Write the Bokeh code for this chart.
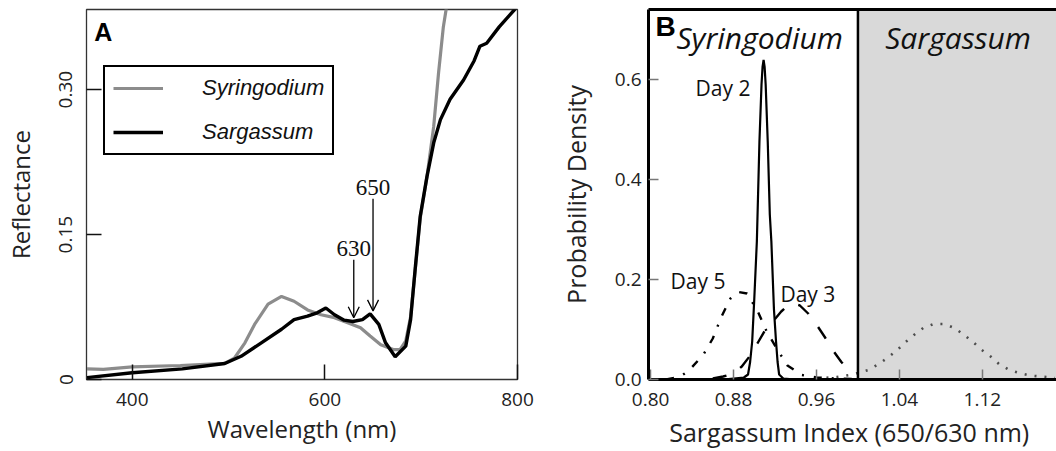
from bokeh.plotting import figure
from bokeh.models import (ColumnDataSource, Legend, LegendItem, Label, Arrow, OpenHead,
                          FixedTicker, BoxAnnotation, Span, LinearAxis, NumeralTickFormatter)
from bokeh.layouts import row
from bokeh.core.properties import value
from bokeh.embed import file_html
from bokeh.resources import INLINE

# ---------------- Panel A data: reflectance spectra ----------------
wl_syringodium = [353, 370, 400, 450, 496, 506, 517, 527, 541, 555, 568, 582, 596, 610,
                  623, 637, 647, 658, 671, 678, 684, 689, 694, 699, 706, 713, 718, 723, 727]
refl_syringodium = [0.011, 0.0105, 0.013, 0.0145, 0.0166, 0.022, 0.038, 0.057, 0.078, 0.086,
                    0.081, 0.072, 0.067, 0.064, 0.059, 0.0535, 0.045, 0.036, 0.031, 0.031,
                    0.040, 0.065, 0.115, 0.167, 0.210, 0.262, 0.317, 0.365, 0.390]

wl_sargassum = [353, 400, 452, 496, 513, 534, 555, 568, 582, 592, 601, 610, 620, 629, 639,
                647, 656, 663, 673, 684, 689, 694, 699, 706, 713, 720, 730, 744, 755, 761,
                768, 781, 797, 802]
refl_sargassum = [0.002, 0.007, 0.011, 0.0166, 0.024, 0.038, 0.052, 0.062, 0.0655, 0.069,
                  0.074, 0.067, 0.0614, 0.060, 0.062, 0.068, 0.057, 0.038, 0.0235, 0.0345,
                  0.062, 0.117, 0.169, 0.210, 0.245, 0.269, 0.290, 0.310, 0.330, 0.345,
                  0.348, 0.365, 0.383, 0.390]

band_wl = [630, 650]
band_labels = ["630", "650"]
arrow_top = [0.124, 0.187]
arrow_tip = [0.064, 0.071]

xticks_A = [400, 600, 800]
yticks_A = [0, 0.15, 0.30]
ytick_labels_A = ["0", "0.15", "0.30"]

# ---------------- Panel B data: probability densities ----------------
day2_x = [0.850, 0.875, 0.885, 0.890, 0.894, 0.896, 0.898, 0.900, 0.9025, 0.905, 0.907, 0.908,
          0.909, 0.910, 0.911, 0.913, 0.915, 0.9165, 0.919, 0.921, 0.9225, 0.924, 0.928,
          0.940, 0.998]
day2_y = [0.0, 0.001, 0.003, 0.004, 0.010, 0.035, 0.076, 0.160, 0.276, 0.476, 0.590, 0.625,
          0.639, 0.625, 0.590, 0.476, 0.330, 0.276, 0.140, 0.076, 0.035, 0.010, 0.002,
          0.0, 0.0]

day3_x = [0.860, 0.870, 0.880, 0.888, 0.895, 0.903, 0.910, 0.918, 0.926, 0.933, 0.938,
          0.944, 0.952, 0.960, 0.968, 0.976, 0.984, 0.992]
day3_y = [0.002, 0.006, 0.012, 0.026, 0.045, 0.072, 0.097, 0.116, 0.136, 0.149, 0.152,
          0.148, 0.132, 0.110, 0.085, 0.058, 0.035, 0.018]

day5_x = [0.815, 0.828, 0.837, 0.851, 0.860, 0.868, 0.877, 0.885, 0.893, 0.903, 0.912,
          0.922, 0.932, 0.946, 0.960, 0.980, 1.000]
day5_y = [0.0, 0.005, 0.018, 0.050, 0.082, 0.124, 0.162, 0.175, 0.172, 0.138, 0.096,
          0.061, 0.028, 0.009, 0.004, 0.002, 0.001]

sarg_x = [0.960, 0.980, 0.995, 1.010, 1.020, 1.029, 1.038, 1.046, 1.054, 1.063, 1.073,
          1.0835, 1.093, 1.1025, 1.111, 1.1195, 1.128, 1.136, 1.146, 1.156, 1.166, 1.176, 1.190]
sarg_y = [0.002, 0.005, 0.010, 0.019, 0.031, 0.044, 0.059, 0.075, 0.089, 0.103, 0.111,
          0.111, 0.103, 0.089, 0.075, 0.059, 0.046, 0.031, 0.019, 0.013, 0.008, 0.006, 0.003]

day_labels = ["Day 2", "Day 5", "Day 3"]
day_label_x = [0.8698, 0.8458, 0.9517]
day_label_y = [0.584, 0.198, 0.171]

threshold = 1.0
xticks_B = [0.80, 0.88, 0.96, 1.04, 1.12]
yticks_B = [0.0, 0.2, 0.4, 0.6]

# positions of the panel letters and class titles (data units)
letter_A_pos = (360.5, 0.360)
letter_B_pos = (0.8047, 0.706)
class_titles = ["Syringodium", "Sargassum"]
class_title_x = [0.825, 1.0263]
class_title_y = 0.684

FONT = "Open Sans"
H = 451
BOTTOM = 72
TOP = 9

# ============================ Panel A ============================
pA = figure(width=540, height=H, x_range=(352.5, 800), y_range=(0, 0.383),
            output_backend="svg", toolbar_location=None,
            min_border_left=84, min_border_right=23, min_border_top=TOP,
            min_border_bottom=BOTTOM)
pA.grid.visible = False
pA.background_fill_color = "white"
pA.border_fill_color = "white"
pA.outline_line_color = "#333333"
pA.outline_line_width = 1.3

r_syr = pA.line(wl_syringodium, refl_syringodium, line_color="#8c8c8c", line_width=3.2)
r_sar = pA.line(wl_sargassum, refl_sargassum, line_color="black", line_width=3.4)

for ax in (pA.xaxis[0], pA.yaxis[0]):
    ax.axis_line_color = None
    ax.major_tick_in = 15
    ax.major_tick_out = 0
    ax.minor_tick_line_color = None
    ax.major_tick_line_color = "#111111"
    ax.major_tick_line_width = 1.5
    ax.major_label_text_font = FONT
    ax.major_label_text_font_size = "19px"
    ax.major_label_text_color = "#222222"
    ax.axis_label_text_font = FONT
    ax.axis_label_text_font_size = "24px"
    ax.axis_label_text_font_style = "normal"
    ax.axis_label_text_color = "#222222"

pA.xaxis.ticker = FixedTicker(ticks=xticks_A)
pA.xaxis.axis_label = "Wavelength (nm)"
pA.xaxis.major_label_standoff = 13
pA.xaxis.axis_label_standoff = 3

pA.yaxis.ticker = FixedTicker(ticks=yticks_A)
pA.yaxis.major_label_overrides = dict(zip(yticks_A, ytick_labels_A))
pA.yaxis.major_label_orientation = "vertical"
pA.yaxis.axis_label = "Reflectance"
pA.yaxis.major_label_standoff = 14
pA.yaxis.axis_label_standoff = 20

legend = Legend(items=[LegendItem(label="Syringodium", renderers=[r_syr]),
                       LegendItem(label="Sargassum", renderers=[r_sar])],
                location=(17, 224), orientation="vertical",
                label_text_font="Liberation Sans", label_text_font_size="22px",
                label_text_font_style="italic", label_text_color="#111111",
                glyph_width=50, glyph_height=26, label_standoff=39, spacing=18,
                padding=8, margin=0,
                border_line_color="black", border_line_width=2.5, border_line_alpha=1.0,
                background_fill_color="white", background_fill_alpha=1.0)
pA.add_layout(legend, "center")

src_arrow = ColumnDataSource(dict(x=band_wl, top=arrow_top, tip=arrow_tip, lab=band_labels))
pA.add_layout(Arrow(end=OpenHead(size=11, line_width=1.3, line_color="black"),
                    x_start="x", y_start="top", x_end="x", y_end="tip",
                    line_width=1.3, line_color="black", source=src_arrow))
pA.text(x="x", y="top", text="lab", source=src_arrow, text_align="center",
        text_baseline="alphabetic", y_offset=-11, text_font=value("Liberation Serif"),
        text_font_size="23px", text_color="#111111")

pA.add_layout(Label(x=letter_A_pos[0], y=letter_A_pos[1], text="A",
                    text_baseline="alphabetic",
                    text_font="Liberation Sans", text_font_style="bold",
                    text_font_size="25px", text_color="black"))

# ============================ Panel B ============================
pB = figure(width=516, height=H, x_range=(0.798, 1.1915), y_range=(0, 0.74),
            output_backend="svg", toolbar_location=None,
            min_border_left=108, min_border_right=0, min_border_top=TOP,
            min_border_bottom=BOTTOM)
pB.grid.visible = False
pB.background_fill_color = "white"
pB.border_fill_color = "white"
pB.outline_line_color = None

pB.add_layout(BoxAnnotation(left=threshold, fill_color="#d9d9d9", fill_alpha=1.0,
                            line_color=None, level="underlay"))
pB.add_layout(Span(location=threshold, dimension="height", line_color="black",
                   line_width=2.5))

pB.line(sarg_x, sarg_y, line_color="#4d4d4d", line_width=2.6, line_dash="2 8")
pB.line(day5_x, day5_y, line_color="black", line_width=2.4, line_dash="8 10 2 10")
pB.line(day3_x, day3_y, line_color="black", line_width=2.4, line_dash="14 16")
pB.line(day2_x, day2_y, line_color="black", line_width=2.2)

for ax in (pB.xaxis[0], pB.yaxis[0]):
    ax.axis_line_color = "black"
    ax.axis_line_width = 3
    ax.major_tick_in = 10
    ax.major_tick_out = 0
    ax.minor_tick_line_color = None
    ax.major_tick_line_color = "#777777"
    ax.major_tick_line_width = 1.5
    ax.major_label_text_font = FONT
    ax.major_label_text_font_size = "19px"
    ax.major_label_text_color = "#222222"
    ax.axis_label_text_font = FONT
    ax.axis_label_text_font_size = "25px"
    ax.axis_label_text_font_style = "normal"
    ax.axis_label_text_color = "#222222"

pB.xaxis.ticker = FixedTicker(ticks=xticks_B)
pB.xaxis.formatter = NumeralTickFormatter(format="0.00")
pB.xaxis.axis_label = "Sargassum  Index (650/630 nm)"
pB.xaxis.major_label_standoff = 13
pB.xaxis.axis_label_standoff = 6

pB.yaxis.ticker = FixedTicker(ticks=yticks_B)
pB.yaxis.formatter = NumeralTickFormatter(format="0.0")
pB.yaxis.axis_label = "Probability Density"
pB.yaxis.major_label_standoff = 7
pB.yaxis.axis_label_standoff = 19

top_axis = LinearAxis(ticker=FixedTicker(ticks=[]), axis_line_width=3, axis_line_color="black",
                      major_tick_in=0, major_tick_out=0, minor_tick_in=0, minor_tick_out=0,
                      major_label_standoff=0, major_label_text_font_size="0px")
pB.add_layout(top_axis, "above")

src_days = ColumnDataSource(dict(x=day_label_x, y=day_label_y, t=day_labels))
pB.text(x="x", y="y", text="t", source=src_days, text_align="center",
        text_baseline="middle", text_font=value(FONT), text_font_size="21px",
        text_color="#111111")

pB.add_layout(Label(x=letter_B_pos[0], y=letter_B_pos[1], text="B",
                    text_baseline="alphabetic",
                    text_font="Liberation Sans", text_font_style="bold",
                    text_font_size="28px", text_color="black"))
for t, tx in zip(class_titles, class_title_x):
    pB.add_layout(Label(x=tx, y=class_title_y, text=t, text_baseline="alphabetic",
                        text_font=FONT, text_font_style="italic",
                        text_font_size="30px", text_color="#111111"))

layout = row(pA, pB)
open("out.html", "w").write(file_html(layout, INLINE))
